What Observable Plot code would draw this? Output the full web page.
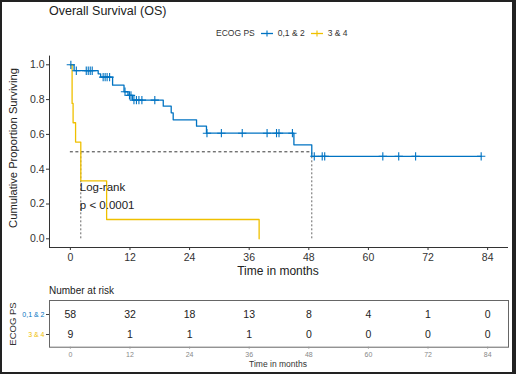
<!DOCTYPE html>
<html><head><meta charset="utf-8">
<script src="https://cdn.jsdelivr.net/npm/d3@7"></script>
<script src="https://cdn.jsdelivr.net/npm/@observablehq/plot@0.6"></script>
<style>
body{margin:0;background:#fff;}
#wrap{position:relative;width:516px;height:374px;overflow:hidden;background:#fff;font-family:"Liberation Sans",Arial,sans-serif;color:#222}
#wrap svg{position:absolute;left:0;background:transparent}
.t{position:absolute;white-space:nowrap;line-height:1}
#border{position:absolute;left:0;top:0;width:516px;height:374px;box-sizing:border-box;border:2px solid #222;border-right-width:4px;pointer-events:none;z-index:10}
</style></head><body>
<div id="wrap"><div id="border"></div></div>
<script>
// ---------- data ----------
const groups = ["0,1 & 2", "3 & 4"];
const colors = ["#0073C2", "#EFC000"];
const xTicks = [0, 12, 24, 36, 48, 60, 72, 84];
const yTicks = [0, 0.2, 0.4, 0.6, 0.8, 1.0];

// KM steps, group 0,1 & 2
const blueTimes = [0, 0.75, 5.6, 6.1, 8.5, 10.8, 11.6, 12.5, 18.7, 20.3, 20.7, 25.4, 27.4, 45.0, 48.6, 82.7];
const blueSurv  = [1, 0.966, 0.948, 0.929, 0.883, 0.845, 0.824, 0.797, 0.762, 0.724, 0.684, 0.647, 0.607, 0.540, 0.474, 0.474];
// censor marks, group 0,1 & 2
const blueCensTimes = [0.1, 1.2, 3.2, 3.6, 4.0, 4.4, 6.6, 7.0, 7.4, 7.9, 11.0, 11.9, 12.2, 12.8, 13.3, 13.8, 14.4, 17.0, 27.5, 30.4, 34.6, 39.6, 41.5, 42.0, 44.7, 49.1, 50.7, 51.2, 62.9, 66.1, 69.5, 82.7];
const blueCensSurv  = [1.0, 0.966, 0.966, 0.966, 0.966, 0.966, 0.929, 0.929, 0.929, 0.929, 0.845, 0.824, 0.824, 0.797, 0.797, 0.797, 0.797, 0.797, 0.607, 0.607, 0.607, 0.607, 0.607, 0.607, 0.607, 0.474, 0.474, 0.474, 0.474, 0.474, 0.474, 0.474];

// KM steps, group 3 & 4
const yellowTimes = [0, 0.35, 0.55, 1.05, 2.1, 7.3, 38.0];
const yellowSurv  = [1, 0.778, 0.667, 0.556, 0.333, 0.111, 0];

// medians
const medianTimes = [48.6, 2.1];
const medianLevel = 0.5;

// number at risk
const riskBlue   = [58, 32, 18, 13, 8, 4, 1, 0];
const riskYellow = [9, 1, 1, 1, 0, 0, 0, 0];

const pvalueLines = ["Log-rank", "p < 0.0001"];
const pvalueX = 1.9;
const pvalueY = [0.297, 0.19];

// ---------- build ----------
const xDomain = [-4.2, 88.2];
const steps = [
  ...blueTimes.map((t, i) => ({t, s: blueSurv[i], g: groups[0]})),
  ...yellowTimes.map((t, i) => ({t, s: yellowSurv[i], g: groups[1]}))
];
const cens = blueCensTimes.map((t, i) => ({t, s: blueCensSurv[i], g: groups[0]}));
const risk = [
  ...xTicks.map((t, i) => ({t, g: groups[0], n: riskBlue[i]})),
  ...xTicks.map((t, i) => ({t, g: groups[1], n: riskYellow[i]}))
];
const font = '"Liberation Sans", Arial, sans-serif';

const main = Plot.plot({
  width: 516, height: 280,
  marginLeft: 49, marginRight: 8, marginTop: 55.6, marginBottom: 33,
  style: {fontFamily: font, background: "transparent", color: "#333"},
  x: {domain: xDomain},
  y: {domain: [-0.05, 1.05]},
  color: {domain: groups, range: colors},
  marks: [
    Plot.ruleY([medianLevel], {x1: 0, x2: medianTimes[0], stroke: "#222", strokeWidth: 0.9, strokeDasharray: "3,2.5"}),
    Plot.ruleX(medianTimes, {y1: 0, y2: medianLevel, stroke: "#555", strokeWidth: 0.9, strokeDasharray: "2,2"}),
    Plot.line(steps, {x: "t", y: "s", z: "g", stroke: "g", curve: "step-after", strokeWidth: 1.3}),
    Plot.dot(cens, {x: "t", y: "s", stroke: "g", symbol: "plus", r: 2.8, strokeWidth: 1.1}),
    Plot.text(pvalueLines, {x: pvalueX, y: (d, i) => pvalueY[i], text: d => d, textAnchor: "start", fontSize: 11.5, fill: "#222"}),
    Plot.axisX({ticks: xTicks, tickSize: 3, tickPadding: 3, fontSize: 10.5, label: null, stroke: "#333", fill: "#333"}),
    Plot.axisY({ticks: yTicks, tickSize: 3, tickPadding: 2, fontSize: 10.5, label: null, tickFormat: d3.format(".1f"), stroke: "#333", fill: "#333"}),
    Plot.ruleY([-0.05], {stroke: "#333", strokeWidth: 1}),
    Plot.ruleX([xDomain[0]], {stroke: "#333", strokeWidth: 1})
  ]
});
main.style.top = "0px";

const table = Plot.plot({
  width: 516, height: 78,
  marginLeft: 49, marginRight: 8, marginTop: 4, marginBottom: 27.3,
  style: {fontFamily: font, background: "transparent", color: "#333"},
  x: {domain: xDomain},
  y: {type: "point", domain: groups, range: [17.8, 38.7], padding: 0},
  marks: [
    Plot.frame({stroke: "#666", strokeWidth: 1}),
    Plot.text(risk, {x: "t", y: "g", text: "n", fontSize: 10.5, fill: "#222"}),
    Plot.axisX({ticks: xTicks, tickSize: 2, tickPadding: 3, fontSize: 7, label: null, stroke: "#999", fill: "#888"}),
    Plot.axisY([groups[0]], {tickSize: 3, tickPadding: 2, fontSize: 7, label: null, stroke: "#444", fill: colors[0]}),
    Plot.axisY([groups[1]], {tickSize: 3, tickPadding: 2, fontSize: 7, label: null, stroke: "#444", fill: colors[1]})
  ]
});
table.style.top = "296px";

const wrap = document.getElementById("wrap");
wrap.appendChild(main);
wrap.appendChild(table);

function addText(txt, css) {
  const d = document.createElement("div");
  d.className = "t";
  d.textContent = txt;
  Object.assign(d.style, css);
  wrap.appendChild(d);
  return d;
}
addText("Overall Survival (OS)", {left: "49px", top: "5px", fontSize: "12.5px", color: "#222"});
addText("Time in months", {left: "278px", top: "265px", fontSize: "12px", transform: "translateX(-50%)", color: "#222"});
addText("Cumulative Proportion Surviving", {left: "14px", top: "148px", fontSize: "11.2px", transform: "translate(-50%,-50%) rotate(-90deg)", color: "#222"});
addText("Number at risk", {left: "49px", top: "286px", fontSize: "10px", color: "#222"});
addText("ECOG PS", {left: "13px", top: "324px", fontSize: "9.5px", transform: "translate(-50%,-50%) rotate(-90deg)", color: "#333"});
addText("Time in months", {left: "278px", top: "360px", fontSize: "8.5px", transform: "translateX(-50%)", color: "#333"});

// legend
const leg = document.createElement("div");
leg.className = "t";
Object.assign(leg.style, {left: "216px", top: "29px", fontSize: "8.5px", color: "#333", display: "flex", alignItems: "center"});
const icon = c => `<svg width="12" height="9" style="position:static;margin:0 5px 0 6px"><line x1="0" x2="12" y1="4.5" y2="4.5" stroke="${c}" stroke-width="1.3"/><line x1="6" x2="6" y1="1.5" y2="7.5" stroke="${c}" stroke-width="1.1"/></svg>`;
leg.innerHTML = `<span>ECOG PS</span>${icon(colors[0])}<span>${groups[0]}</span>${icon(colors[1])}<span>${groups[1]}</span>`;
wrap.appendChild(leg);
</script>
</body></html>
